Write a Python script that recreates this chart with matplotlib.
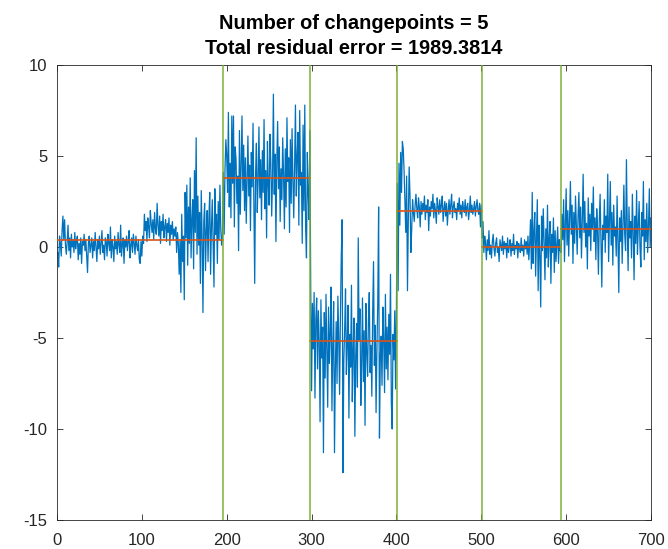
import numpy as np
import matplotlib
matplotlib.use('Agg')
import matplotlib.pyplot as plt

# signal values, one list per segment
seg_a = [-0.3, -1.1, 0.6, 0.2, -0.5, 0.9, 1.7, 0.4, 1.5, 0.1,
         -0.4, 0.3, 1.2, -0.2, 0.5, -0.6, 0.7, 0.0, 0.4, -0.3,
         0.8, -0.1, 0.3, 0.6, -0.7, 0.2, -0.4, 0.5, -0.9, 0.3,
         0.1, 0.7, -0.2, 0.4, -0.5, -1.4, 0.2, 0.6, -0.3, 0.1,
         0.5, -0.6, 0.3, -0.2, 0.8, 0.0, -0.8, 0.4, -0.1, 0.6,
         -0.4, 0.2, 0.9, -0.3, 0.1, -0.7, 0.5, 0.3, -0.5, 0.7,
         0.2, -0.2, 1.1, -0.6, 0.4, 0.0, -0.8, 0.6, -0.1, 0.3,
         -0.4, 0.8, 0.1, -0.3, 1.2, -0.5, 0.2, 0.5, -0.9, 0.4,
         0.0, 0.6, -0.2, 0.3, 0.9, -0.6, 0.1, 0.5, -0.3, 0.7,
         0.2, -0.4, 0.6, 0.1, -0.2, 0.4, -0.7, -0.9, 0.3, -0.5,
         0.6, 0.2, 1.8, 0.9, 1.4, 0.3, 1.6, 1.1, 0.5, 2.0,
         1.3, 0.8, 1.5, 0.4, 1.9, 1.0, 0.7, 2.4, 1.2, 0.6,
         1.7, 0.2, 1.4, 0.9, 1.8, 0.5, 1.1, 1.5, 0.3, 1.3,
         0.8, 1.6, 0.1, 1.2, 0.7, 1.4, 0.4, 1.0, 0.6, 1.1,
         -0.3, 0.8, 0.2, -1.5, 0.4, -2.5, 1.8, -0.8, 0.6, -2.9,
         3.0, 0.5, 3.4, -1.0, 2.2, 0.2, 3.8, -0.6, 1.5, 2.6,
         -1.2, 4.2, 0.8, 6.0, -0.4, 2.8, 0.1, 1.9, -2.0, 3.1,
         0.6, -3.6, 1.4, 2.4, -1.3, 0.9, 2.0, -0.8, 1.6, 3.0,
         -1.5, 1.1, 2.6, 0.3, -2.2, 3.2, 0.7, 1.8, -0.9, 2.5,
         0.4, 3.4, 1.0, 0.1, 0.6]
seg_b = [4.1, 0.7, 4.3, 5.9, 5.0, 3.0, 7.4, 2.2, 4.6, 1.6,
         7.2, 3.5, 7.2, 1.1, 5.5, 4.8, 2.4, 3.9, -0.2, 6.4,
         1.8, 4.4, 7.2, 3.1, 5.6, 2.0, 4.9, 1.3, 3.7, 6.1,
         2.8, 4.5, 0.9, 5.2, 3.3, 6.8, 2.5, -2.0, 4.0, 5.7,
         1.9, 3.6, 6.6, 2.7, 4.8, 1.5, 5.3, 3.0, 7.0, 2.1,
         4.2, 0.5, 5.8, 3.4, 2.3, 6.2, 4.6, 1.7, 3.8, 8.4,
         2.9, 5.1, 0.3, 4.7, 6.9, 3.2, 5.5, 1.4, 4.3, 2.6,
         6.0, 3.9, 1.0, 5.4, 2.2, 7.1, 3.6, 4.9, 0.8, 5.9,
         2.4, 6.5, 3.7, 1.6, 4.4, 7.8, 2.8, 5.0, 6.3, 1.2,
         7.5, 3.4, 4.1, 0.2, 6.7, 2.0, 7.8, 1.0, -0.6, 5.2,
         3.0, 1.5, 6.4]
seg_c = [-2.4, -7.9, -3.1, -5.6, -2.5, -8.3, -4.0, -2.8, -6.7, -3.5,
         -5.2, -9.6, -2.9, -6.1, -4.4, -11.3, -3.6, -7.2, -2.6, -5.9,
         -8.8, -3.3, -6.4, -4.7, -2.2, -9.0, -5.5, -3.0, -11.3, -6.8,
         -4.1, -7.5, -2.7, -5.0, -8.1, -3.8, -0.5, 1.5, -12.4, -6.2,
         -4.5, -2.3, -7.0, -5.3, -3.2, -9.4, -4.8, -6.6, -2.1, -8.5,
         -5.7, -3.9, -10.4, -6.0, -4.2, -7.7, 0.5, -5.1, -3.4, -8.7,
         -6.3, -2.8, -7.4, -4.6, -9.8, -3.1, -5.8, -7.1, -4.0, -2.5,
         -6.9, -5.4, -8.2, -3.6, -0.8, -6.5, -4.3, -9.1, -5.6, -3.0,
         2.2, -10.5, -6.1, -4.9, -7.6, -3.3, -5.2, -8.0, -2.6, -6.7,
         -4.4, -7.3, -3.7, -5.9, -1.5, -8.6, -10.0, -4.8, -6.2, -3.5,
         -7.8, -3.3]
seg_d = [3.5, -2.4, 4.6, 1.2, 5.2, 3.0, 5.8, 5.4, 4.2, 2.5,
         0.8, 3.9, -2.4, 1.5, 4.4, 2.8, -0.3, 1.0, 2.6, 1.9,
         1.4, 2.3, 2.9, 2.1, 1.6, 2.7, 2.2, 1.1, 2.5, 1.8,
         2.4, 2.0, 2.8, 1.5, 2.3, 1.9, 2.6, 0.9, 2.2, 1.7,
         2.5, 2.1, 2.9, 1.6, 2.4, 2.0, 1.3, 2.7, 2.2, 1.8,
         2.6, 1.9, 2.3, 2.8, 1.4, 2.1, 2.5, 1.7, 2.4, 1.2,
         2.0, 2.6, 1.8, 2.3, 2.9, 1.6, 2.2, 2.5, 1.9, 2.1,
         1.5, 2.4, 2.0, 2.7, 1.8, 2.3, 1.6, 2.5, 2.1, 1.9,
         2.6, 1.7, 2.2, 2.4, 1.5, 2.0, 2.8, 1.9, 2.3, 1.8,
         2.1, 2.5, 1.7, 2.2, 2.6, 2.0, 1.8, 2.4, 1.1, 2.3]
seg_e = [0.5, 1.4, -0.3, 0.6, 0.2, -0.7, 0.4, -0.2, 0.9, -0.4,
         0.1, -0.6, 0.3, 0.7, -0.1, -0.5, 0.2, 0.5, -0.3, 0.0,
         -0.8, 0.4, 0.1, -0.2, 0.6, -0.4, 0.3, -0.1, 0.2, -0.6,
         0.5, -0.3, 0.0, 0.4, -0.5, 0.2, -0.2, 0.7, -0.4, 0.1,
         -0.1, 0.3, -0.6, 0.2, 0.0, -0.3, 0.5, -0.2, 0.1, -0.5,
         0.4, -0.1, 0.3, -0.4, 0.6, -0.7, 0.2, 1.5, -1.2, 3.0,
         -0.9, 0.8, 1.9, -1.6, 0.4, 2.6, -2.4, 1.2, -0.5, -3.3,
         1.7, -0.2, 2.1, 0.3, -1.8, 1.0, -0.6, 2.3, -1.1, 0.5,
         1.4, -2.0, 0.7, -0.3, 1.6, -1.4, 0.9, -0.8, 0.2, 1.1,
         -0.9, 0.4, -0.2]
seg_f = [-0.3, 1.8, 0.4, 2.6, -0.8, 1.2, 3.2, 0.1, 2.0, -0.5,
         1.5, 3.6, 0.7, 2.3, -0.9, 1.9, 0.2, 2.8, 1.1, -0.4,
         1.7, 3.0, 0.5, 2.2, -0.6, 1.4, 4.0, 0.8, 2.5, 0.0,
         1.3, -1.2, 2.7, 0.6, 1.8, -0.2, 2.4, 1.0, 3.3, 0.3,
         1.6, -0.7, 2.1, 0.9, -1.5, 1.4, 2.9, 0.2, -2.2, 1.2,
         0.4, 2.6, -0.3, 1.7, 0.8, 4.0, -0.8, 1.5, 3.6, 0.1,
         1.9, -1.0, 2.3, 0.6, 1.1, -0.5, 2.8, 0.4, -2.5, 1.6,
         0.3, 2.0, -0.9, 1.3, 3.4, 0.7, -0.2, 4.8, 1.0, -1.3,
         2.2, 0.5, 1.4, -0.6, 2.9, 0.8, -1.8, 1.7, 0.2, 3.1,
         -0.4, 1.2, 2.5, 0.0, -1.1, 1.9, 0.6, 3.6, -0.7, 1.5,
         0.3, 2.4, -0.3, 1.1, 3.2, 0.0, 1.6]

segments = [seg_a, seg_b, seg_c, seg_d, seg_e, seg_f]
seg_means = [0.38, 3.8, -5.15, 2.0, 0.0, 0.97]   # red levels

n_changepoints = 5
residual_error = 1989.3814

x_ticks = [0, 100, 200, 300, 400, 500, 600, 700]
y_ticks = [-15, -10, -5, 0, 5, 10]

signal = np.concatenate(segments)
x = np.arange(1, len(signal) + 1)
bounds = np.concatenate([[0], np.cumsum([len(s) for s in segments])]) + 0.5

plt.rcParams['font.family'] = ['Liberation Sans', 'DejaVu Sans']
plt.rcParams['axes.unicode_minus'] = False

fig = plt.figure(figsize=(6.68, 5.49), dpi=100)
ax = fig.add_axes([0.0853, 0.0528, 0.8893, 0.8288])

ax.plot(x, signal, color='#0072BD', linewidth=0.9, zorder=2)
for i, m in enumerate(seg_means):
    ax.plot([bounds[i], bounds[i + 1]], [m, m], color='#D95319', linewidth=1.2, zorder=3)
for b in bounds[1:-1]:
    ax.axvline(b, color='#77AC30', alpha=0.75, linewidth=1.4, zorder=4)

ax.set_xlim(0, 700)
ax.set_ylim(-15, 10)
ax.set_xticks(x_ticks)
ax.set_yticks(y_ticks)
ax.tick_params(direction='in', top=True, right=True, length=4, width=0.6,
               colors='#262626', labelsize=12)
ax.tick_params(axis='x', pad=9)
ax.tick_params(axis='y', pad=7)
for sp in ax.spines.values():
    sp.set_color('#262626')
    sp.set_linewidth(0.6)

ax.set_title("Number of changepoints = %d\nTotal residual error = %.4f"
             % (n_changepoints, residual_error),
             fontsize=14.4, fontweight='bold', color='#000000', pad=8, linespacing=1.42)

fig.savefig('out.png', dpi=100)
